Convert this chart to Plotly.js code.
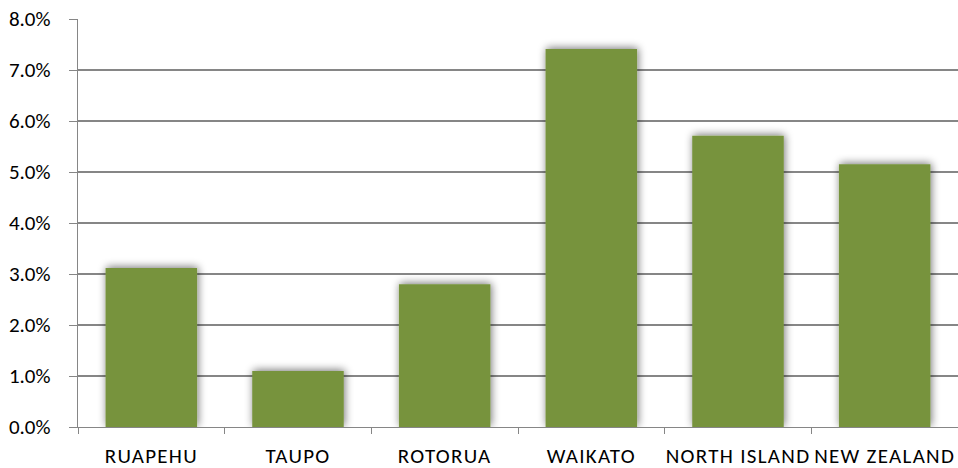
<!DOCTYPE html>
<html><head><meta charset="utf-8">
<script src="https://cdn.plot.ly/plotly-3.0.1.min.js"></script>
<style>
body{margin:0;background:#fff;}
#chart{width:958px;height:468px;}
.xtick text{letter-spacing:1.3px;}
</style></head>
<body>
<svg width="0" height="0" style="position:absolute">
  <defs>
    <filter id="barShadow" x="-20%" y="-20%" width="140%" height="140%">
      <feGaussianBlur in="SourceAlpha" stdDeviation="4"/>
      <feOffset dx="1" dy="-1" result="b"/>
      <feComponentTransfer><feFuncA type="linear" slope="0.55"/></feComponentTransfer>
      <feMerge><feMergeNode/><feMergeNode in="SourceGraphic"/></feMerge>
    </filter>
  </defs>
</svg>
<div id="chart"></div>
<script>
const categories = ["RUAPEHU","TAUPO","ROTORUA","WAIKATO","NORTH ISLAND","NEW ZEALAND"];
const values = [0.0312, 0.0110, 0.0280, 0.0741, 0.0571, 0.0515];
const yTicks = [0,0.01,0.02,0.03,0.04,0.05,0.06,0.07,0.08];
const yTickLabels = ["0.0%","1.0%","2.0%","3.0%","4.0%","5.0%","6.0%","7.0%","8.0%"];

const yFont = {family:"Carlito, Lato, 'Liberation Sans', sans-serif", size:21, color:"#000"};
const xFont = {family:"Carlito, Lato, 'Liberation Sans', sans-serif", size:21, color:"#000"};
Plotly.newPlot("chart",[{
  type:"bar", x:categories, y:values,
  marker:{color:"#77933C", line:{width:0}},
  hoverinfo:"skip"
}],{
  width:958, height:468,
  margin:{l:78, r:0, t:19, b:41},
  paper_bgcolor:"#fff", plot_bgcolor:"#fff",
  bargap:0.376,
  font:yFont,
  showlegend:false,
  xaxis:{
    type:"category", tickson:"boundaries", ticks:"outside", ticklen:6, tickcolor:"#868686",
    showline:true, linecolor:"#868686", linewidth:1.3, showgrid:false,
    tickfont:xFont, ticklabelstandoff:9, tickangle:0, automargin:false
  },
  yaxis:{
    range:[0,0.08], tickvals:yTicks, ticktext:yTickLabels,
    ticks:"outside", ticklen:8, tickcolor:"#868686",
    showline:true, linecolor:"#868686", linewidth:1.3,
    showgrid:true, gridcolor:"#868686", gridwidth:1.3, zeroline:false,
    tickfont:yFont, ticklabelstandoff:14, automargin:false
  }
},{staticPlot:true}).then(function(gd){
  gd.querySelectorAll(".barlayer .point path").forEach(function(p){
    p.setAttribute("filter","url(#barShadow)");
  });
});
</script></body></html>
